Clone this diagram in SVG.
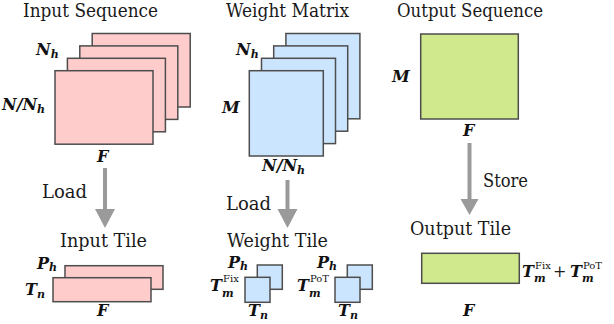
<svg xmlns="http://www.w3.org/2000/svg" width="614" height="324" viewBox="0 0 614 324">
<style>
text{font-family:'DejaVu Serif','Liberation Serif','Times New Roman',serif}
.t{font-size:18px;fill:#1a1a1a}
.m{font-size:16px;font-style:italic;font-weight:bold;fill:#111}
.s{font-size:11px}
.r{font-style:normal;font-weight:normal;font-size:10px}
.pk{fill:#ffcccc;stroke:#4d4d4d;stroke-width:1.5}
.bl{fill:#cce5ff;stroke:#4d4d4d;stroke-width:1.5}
.gr{fill:#d0e98c;stroke:#4d4d4d;stroke-width:1.5}
.sh{stroke:#9a9a9a;stroke-width:4;fill:none}
.hd{fill:#9a9a9a}
</style>
<rect width="614" height="324" fill="#fff"/>
<g id="input-sequence">
<text class="t" x="23" y="17" textLength="135" lengthAdjust="spacingAndGlyphs">Input Sequence</text>
<rect class="pk" x="92.2" y="33.5" width="98" height="73.5"/>
<rect class="pk" x="79.8" y="45.9" width="98" height="73.5"/>
<rect class="pk" x="67.4" y="58.3" width="98" height="73.5"/>
<rect class="pk" x="55" y="70.7" width="98" height="73.5"/>
<text class="m" x="36" y="55">N<tspan class="s" dy="3">h</tspan></text>
<text class="m" x="2" y="110">N/N<tspan class="s" dy="3">h</tspan></text>
<text class="m" x="97" y="162">F</text>
</g>
<g id="weight-matrix">
<text class="t" x="226" y="17" textLength="123" lengthAdjust="spacingAndGlyphs">Weight Matrix</text>
<rect class="bl" x="285.9" y="33.5" width="74" height="85.3"/>
<rect class="bl" x="273.7" y="45.9" width="74" height="85.3"/>
<rect class="bl" x="261.5" y="58.3" width="74" height="85.3"/>
<rect class="bl" x="249.3" y="70.7" width="74" height="85.3"/>
<text class="m" x="236" y="55">N<tspan class="s" dy="3">h</tspan></text>
<text class="m" x="222" y="113">M</text>
<text class="m" x="262" y="171">N/N<tspan class="s" dy="3">h</tspan></text>
</g>
<g id="output-sequence">
<text class="t" x="397" y="17" textLength="146" lengthAdjust="spacingAndGlyphs">Output Sequence</text>
<rect class="gr" x="420.7" y="34" width="97.6" height="85"/>
<text class="m" x="392" y="82">M</text>
<text class="m" x="463" y="136">F</text>
</g>
<g id="connectors">
<line class="sh" x1="105" y1="168" x2="105" y2="211"/>
<polygon class="hd" points="95,209 115,209 105,228"/>
<text class="t" x="42" y="198" textLength="45" lengthAdjust="spacingAndGlyphs">Load</text>
<line class="sh" x1="287.5" y1="180" x2="287.5" y2="211"/>
<polygon class="hd" points="277.5,209 297.5,209 287.5,228"/>
<text class="t" x="226" y="210" textLength="45" lengthAdjust="spacingAndGlyphs">Load</text>
<line class="sh" x1="469.5" y1="143" x2="469.5" y2="201"/>
<polygon class="hd" points="460.5,199 478.5,199 469.5,215"/>
<text class="t" x="483" y="187" textLength="45" lengthAdjust="spacingAndGlyphs">Store</text>
</g>
<g id="input-tile">
<text class="t" x="60" y="247" textLength="87" lengthAdjust="spacingAndGlyphs">Input Tile</text>
<rect class="pk" x="65" y="265.7" width="98" height="23.6"/>
<rect class="pk" x="53" y="277.7" width="98" height="24"/>
<text class="m" x="37" y="269">P<tspan class="s" dy="2">h</tspan></text>
<text class="m" x="25" y="295">T<tspan class="s" dy="3">n</tspan></text>
<text class="m" x="97" y="316">F</text>
</g>
<g id="weight-tile">
<text class="t" x="227" y="247" textLength="101" lengthAdjust="spacingAndGlyphs">Weight Tile</text>
<rect class="bl" x="257.3" y="265" width="25" height="24.3"/>
<rect class="bl" x="245" y="277.3" width="25" height="25"/>
<text class="m" x="228" y="268">P<tspan class="s" dy="2">h</tspan></text>
<text class="m" x="210" y="291">T</text>
<text class="m r" x="223" y="282">Fix</text>
<text class="m s" x="222" y="297">m</text>
<text class="m" x="248" y="316">T<tspan class="s" dy="3">n</tspan></text>
<rect class="bl" x="347.3" y="265" width="25" height="24.3"/>
<rect class="bl" x="335" y="277.3" width="25" height="25"/>
<text class="m" x="317" y="268">P<tspan class="s" dy="2">h</tspan></text>
<text class="m" x="297" y="291">T</text>
<text class="m r" x="310" y="282">PoT</text>
<text class="m s" x="309" y="297">m</text>
<text class="m" x="338" y="316">T<tspan class="s" dy="3">n</tspan></text>
</g>
<g id="output-tile">
<text class="t" x="410" y="235" textLength="101" lengthAdjust="spacingAndGlyphs">Output Tile</text>
<rect class="gr" x="421.7" y="253.3" width="97.6" height="30"/>
<text class="m" x="522" y="277">T</text>
<text class="m r" x="535" y="269">Fix</text>
<text class="m s" x="534" y="282">m</text>
<text class="t" x="553" y="277" style="font-size:16px">+</text>
<text class="m" x="570" y="277">T</text>
<text class="m r" x="583" y="269">PoT</text>
<text class="m s" x="582" y="282">m</text>
<text class="m" x="463" y="316">F</text>
</g>
</svg>
